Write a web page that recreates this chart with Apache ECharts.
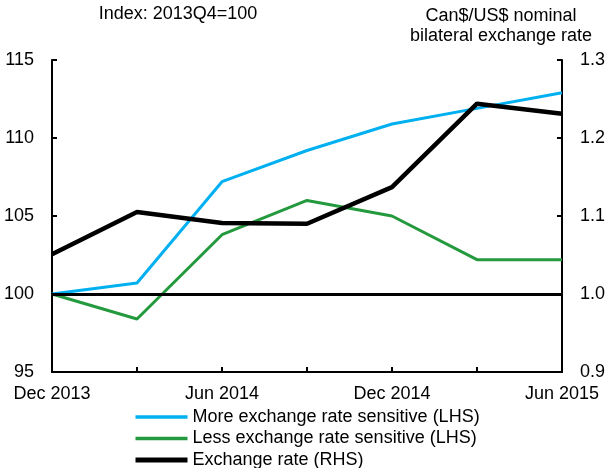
<!DOCTYPE html>
<html>
<head>
<meta charset="utf-8">
<script src="https://cdn.jsdelivr.net/npm/echarts@6/dist/echarts.min.js"></script>
<style>
  html, body { margin: 0; padding: 0; background: #fff; }
  #chart { width: 608px; height: 468px; }
</style>
</head>
<body>
<div id="chart"></div>
<script>
// quarterly points, Dec 2013 .. Jun 2015
const categories = ['Dec 2013', 'Mar 2014', 'Jun 2014', 'Sep 2014', 'Dec 2014', 'Mar 2015', 'Jun 2015']
const moreSensitive = [100, 100.7, 107.2, 109.2, 110.9, 111.9, 112.9]
const lessSensitive = [100, 98.4, 103.8, 106.0, 105.0, 102.2, 102.2]
const exchangeRate = [1.051, 1.105, 1.091, 1.090, 1.137, 1.244, 1.231]
const leftTicks = { min: 95, max: 115, step: 5 }
const rightTicks = { min: 0.9, max: 1.3, step: 0.1 }

const FONT = 'Liberation Sans, Arial, sans-serif'
const chart = echarts.init(document.getElementById('chart'))

const axisCommon = {
    axisLine: { show: true, lineStyle: { color: '#000', width: 2 } },
    axisTick: { show: true, inside: true, length: 5, lineStyle: { color: '#000', width: 2 } },
    splitLine: { show: false },
    axisLabel: { color: '#000', fontSize: 18, fontFamily: FONT, margin: 18 }
}

chart.setOption({
    animation: false,
    textStyle: { fontFamily: FONT },
    graphic: [
        { type: 'text', x: 178, y: 14, style: { text: 'Index: 2013Q4=100', align: 'center', verticalAlign: 'middle', fontSize: 18, fontFamily: FONT, fill: '#000' } },
        { type: 'text', x: 501, y: 16, style: { text: 'Can$/US$ nominal', align: 'center', verticalAlign: 'middle', fontSize: 18, fontFamily: FONT, fill: '#000' } },
        { type: 'text', x: 501, y: 36, style: { text: 'bilateral exchange rate', align: 'center', verticalAlign: 'middle', fontSize: 18, fontFamily: FONT, fill: '#000' } }
    ],
    grid: { left: 52, right: 46, top: 60, bottom: 96, containLabel: false },
    legend: {
        orient: 'vertical',
        left: 133,
        top: 408,
        width: 400,
        height: 90,
        padding: 0,
        itemWidth: 52,
        itemHeight: 2,
        itemGap: 3.5,
        itemStyle: { opacity: 0 },
        textStyle: { color: '#000', fontSize: 18, fontFamily: FONT },
        data: [
            { name: 'More exchange rate sensitive (LHS)', lineStyle: { width: 3.5 } },
            { name: 'Less exchange rate sensitive (LHS)', lineStyle: { width: 3.5 } },
            { name: 'Exchange rate (RHS)', lineStyle: { width: 5 } }
        ]
    },
    xAxis: {
        type: 'category',
        data: categories,
        boundaryGap: false,
        ...axisCommon,
        axisTick: { ...axisCommon.axisTick, interval: 0 },
        axisLabel: { ...axisCommon.axisLabel, interval: 1, margin: 13 }
    },
    yAxis: [
        {
            type: 'value',
            min: leftTicks.min, max: leftTicks.max, interval: leftTicks.step,
            ...axisCommon
        },
        {
            type: 'value',
            position: 'right',
            min: rightTicks.min, max: rightTicks.max, interval: rightTicks.step,
            ...axisCommon,
            axisLabel: { ...axisCommon.axisLabel, formatter: v => v.toFixed(1) }
        }
    ],
    series: [
        {
            name: 'More exchange rate sensitive (LHS)',
            type: 'line',
            data: moreSensitive,
            symbol: 'none',
            lineStyle: { color: '#00b0f0', width: 3 },
            itemStyle: { color: '#00b0f0' },
            markLine: {
                silent: true,
                symbol: 'none',
                label: { show: false },
                lineStyle: { color: '#000', width: 3, type: 'solid' },
                data: [{ yAxis: 100 }]
            }
        },
        {
            name: 'Less exchange rate sensitive (LHS)',
            type: 'line',
            data: lessSensitive,
            symbol: 'none',
            lineStyle: { color: '#24993e', width: 3 },
            itemStyle: { color: '#24993e' }
        },
        {
            name: 'Exchange rate (RHS)',
            type: 'line',
            yAxisIndex: 1,
            data: exchangeRate,
            symbol: 'none',
            lineStyle: { color: '#000', width: 4.5 },
            itemStyle: { color: '#000' }
        }
    ]
})
</script>
</body>
</html>
